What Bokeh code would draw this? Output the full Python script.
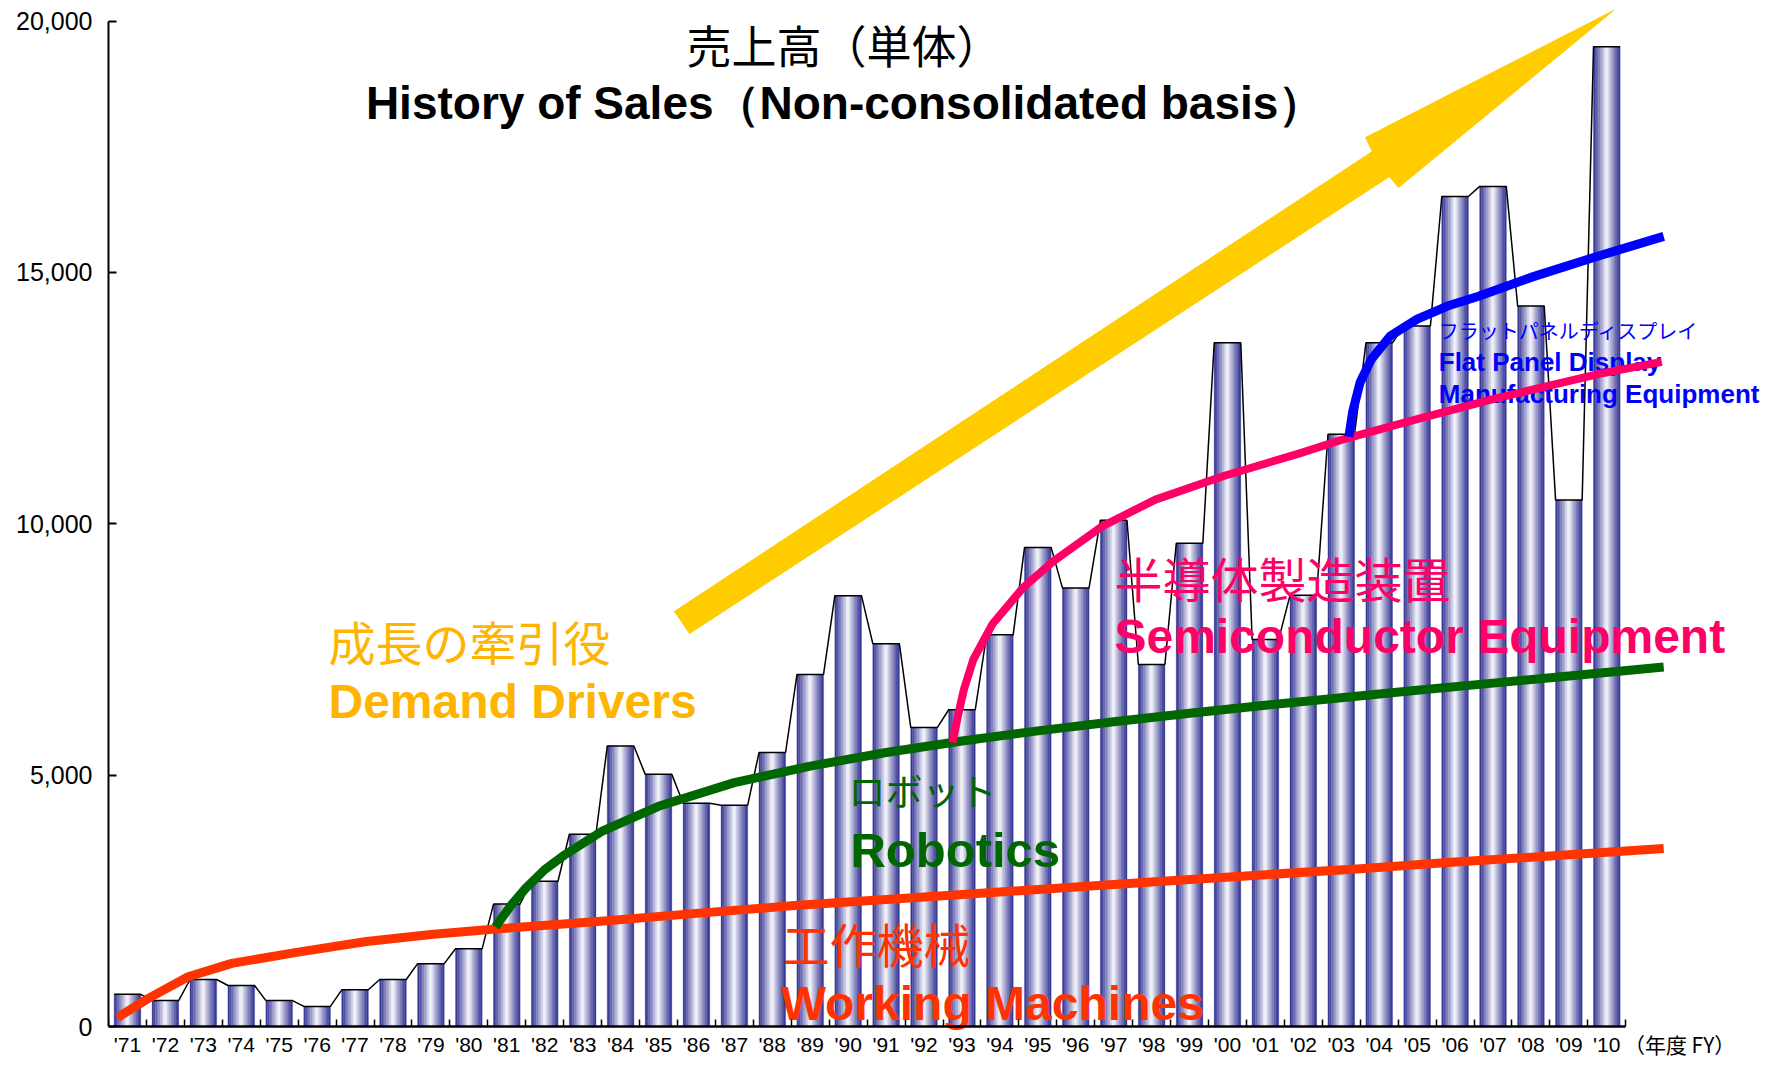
from bokeh.plotting import figure
from bokeh.models import Range1d, FixedTicker, NumeralTickFormatter, ColumnDataSource, LinearAxis
from bokeh.core.properties import value
from bokeh.embed import file_html
from bokeh.resources import INLINE

# ---------------- data ----------------
years = ["'71", "'72", "'73", "'74", "'75", "'76", "'77", "'78", "'79", "'80",
         "'81", "'82", "'83", "'84", "'85", "'86", "'87", "'88", "'89", "'90",
         "'91", "'92", "'93", "'94", "'95", "'96", "'97", "'98", "'99", "'00",
         "'01", "'02", "'03", "'04", "'05", "'06", "'07", "'08", "'09", "'10"]
sales = [640, 515, 935, 815, 515, 400, 730, 935, 1250, 1545,
         2435, 2890, 3825, 5580, 5015, 4440, 4400, 5450, 7000, 8570,
         7615, 5945, 6300, 7790, 9530, 8720, 10070, 7200, 9610, 13600,
         7700, 8580, 11780, 13600, 13935, 16510, 16710, 14330, 10470, 19490]

# trend curves (x in category index, '71 = 0)
machines_x = [-0.26, 0.55, 1.6, 2.75, 4.5, 6.3, 8.0, 9.7, 12.4, 15, 17.5, 20, 22.5, 25, 27.5, 30, 32.5, 35, 37.5, 40.5]
machines_y = [180, 560, 990, 1255, 1480, 1690, 1830, 1940, 2090, 2250, 2400, 2525, 2650, 2775, 2900, 3020, 3140, 3270, 3390, 3540]

robotics_x = [9.7, 10.1, 10.5, 11.0, 11.5, 12.5, 14, 16, 18, 20, 22, 24, 26, 28, 30, 32, 34, 36, 38, 40.5]
robotics_y = [1980, 2400, 2750, 3120, 3400, 3880, 4380, 4850, 5180, 5450, 5680, 5880, 6060, 6230, 6390, 6540, 6690, 6830, 6970, 7150]

semi_x = [21.75, 21.9, 22.05, 22.3, 22.8, 23.6, 24.4, 25.7, 27.1, 28.9, 30.9, 32.1, 34, 36, 38.8, 40.45]
semi_y = [5650, 6200, 6700, 7300, 8000, 8720, 9250, 9950, 10480, 10950, 11400, 11690, 12080, 12480, 12980, 13220]

fpd_x = [32.2, 32.3, 32.5, 32.8, 33.3, 34.0, 34.8, 35.6, 37.0, 38.8, 40.5]
fpd_y = [11730, 12230, 12820, 13280, 13740, 14070, 14330, 14520, 14900, 15330, 15715]

arrow_x = [14.42, 14.82, 33.27, 33.51, 39.18, 32.64, 32.82]
arrow_y = [8255, 7817, 16907, 16688, 20209, 17683, 17405]

y_ticks = [0, 5000, 10000, 15000, 20000]

# ---------------- figure ----------------
W, H = 1766, 1058
p = figure(width=W, height=H, output_backend="svg", toolbar_location=None,
           x_range=Range1d(-0.5, 43.21), y_range=Range1d(-636.5, 20407.8),
           x_axis_location=None,
           min_border_left=108, min_border_right=0, min_border_top=0, min_border_bottom=0)
p.outline_line_color = None
p.grid.visible = False
p.background_fill_color = "white"

# bars as cylinders: vertical strips with a navy-white-navy gradient
bw = 0.70
N = 16
navy = (45, 45, 145)
sx, stop, scol = [], [], []
for i, v in enumerate(sales):
    for k in range(N):
        t = (k + 0.5) / N * 2 - 1
        f = abs(t) ** 0.9
        c = tuple(int(round(255 * (1 - f) + navy[j] * f)) for j in range(3))
        sx.append(i - bw / 2 + (k + 0.5) * bw / N)
        stop.append(v)
        scol.append("#%02x%02x%02x" % c)
src = ColumnDataSource(dict(x=sx, top=stop, color=scol))
p.vbar(x="x", top="top", bottom=0, width=bw / N * 1.08, source=src,
       fill_color="color", line_color="color", line_width=0.3)

# thin black line over the bar tops
lx, ly = [], []
for i, v in enumerate(sales):
    lx += [i - bw / 2, i + bw / 2]
    ly += [v, v]
p.line(lx, ly, line_color="black", line_width=1.5)

# texts
JP = "Noto Sans CJK JP"
EN = "Liberation Sans"
p.text(x=[18.89], y=[19523], text=["売上高（単体）"], text_font=value(JP), text_font_size="45px",
       text_color="black", text_align="center", text_baseline="middle")
p.text(x=[18.92], y=[18373], text=["History of Sales（Non-consolidated basis）"], text_font=value(EN),
       text_font_size="46px", text_font_style="bold", text_color="black",
       text_align="center", text_baseline="middle")

p.text(x=[5.30], y=[7668], text=["成長の牽引役"], text_font=value(JP), text_font_size="47px",
       text_color="#FFB400", text_align="left", text_baseline="middle")
p.text(x=[5.30], y=[6461], text=["Demand Drivers"], text_font=value(EN), text_font_size="48px",
       text_font_style="bold", text_color="#FFB400", text_align="left", text_baseline="middle")

p.text(x=[19.01], y=[4697], text=["ロボット"], text_font=value(JP), text_font_size="37px",
       text_color="#006600", text_align="left", text_baseline="middle")
p.text(x=[19.06], y=[3501], text=["Robotics"], text_font=value(EN), text_font_size="49px",
       text_font_style="bold", text_color="#006600", text_align="left", text_baseline="middle")

p.text(x=[17.27], y=[1679], text=["工作機械"], text_font=value(JP), text_font_size="47px",
       text_color="#FF3300", text_align="left", text_baseline="middle")
p.text(x=[17.22], y=[448], text=["Working Machines"], text_font=value(EN), text_font_size="48px",
       text_font_style="bold", text_color="#FF3300", text_align="left", text_baseline="middle")

p.text(x=[26.02], y=[8939], text=["半導体製造装置"], text_font=value(JP), text_font_size="48px",
       text_color="#FF0066", text_align="left", text_baseline="middle")
p.text(x=[26.02], y=[7750], text=["Semiconductor Equipment"], text_font=value(EN), text_font_size="48px",
       text_font_style="bold", text_color="#FF0066", text_align="left", text_baseline="middle")

p.text(x=[34.57], y=[13852], text=["フラットパネルディスプレイ"], text_font=value(JP), text_font_size="20px",
       text_color="#0000FF", text_align="left", text_baseline="middle")
p.text(x=[34.57, 34.57], y=[13220, 12587], text=["Flat Panel Display", "Manufacturing Equipment"],
       text_font=value(EN), text_font_size="26px", text_font_style="bold", text_color="#0000FF",
       text_align="left", text_baseline="middle")

p.text(x=[39.45], y=[-358], text=["（年度 FY）"], text_font=value(JP), text_font_size="21px",
       text_color="black", text_align="left", text_baseline="middle")

# trend curves
p.line(machines_x, machines_y, line_color="#FF3300", line_width=9, line_cap="butt", line_join="round")
p.line(robotics_x, robotics_y, line_color="#006600", line_width=9, line_cap="butt", line_join="round")
p.line(semi_x, semi_y, line_color="#FF0066", line_width=8, line_cap="butt", line_join="round")
p.line(fpd_x, fpd_y, line_color="#0000FF", line_width=9, line_cap="butt", line_join="round")

# big growth arrow
p.patch(arrow_x, arrow_y, fill_color="#FFCC00", line_color="#FFCC00", line_width=1)

# y axis
p.yaxis.ticker = FixedTicker(ticks=y_ticks)
p.yaxis.formatter = NumeralTickFormatter(format="0,0")
p.yaxis.bounds = (0, 20000)
p.yaxis.axis_line_width = 2
p.yaxis.axis_line_color = "black"
p.yaxis.major_tick_in = 8
p.yaxis.major_tick_out = 0
p.yaxis.major_tick_line_width = 2
p.yaxis.minor_tick_line_color = None
p.yaxis.major_label_text_font = EN
p.yaxis.major_label_text_font_size = "25px"
p.yaxis.major_label_text_color = "black"
p.yaxis.major_label_standoff = 16

# x axis fixed at y = 0 inside the frame
xax = LinearAxis(fixed_location=0)
xax.ticker = FixedTicker(ticks=list(range(len(years))),
                         minor_ticks=[i - 0.5 for i in range(len(years) + 1)])
xax.major_label_overrides = {i: y for i, y in enumerate(years)}
xax.bounds = (-0.5, len(years) - 0.5)
xax.axis_line_width = 2.5
xax.axis_line_color = "black"
xax.major_tick_in = 0
xax.major_tick_out = 0
xax.minor_tick_in = 7
xax.minor_tick_out = 0
xax.minor_tick_line_color = "black"
xax.minor_tick_line_width = 1.5
xax.major_label_text_font = EN
xax.major_label_text_font_size = "21px"
xax.major_label_text_color = "black"
xax.major_label_standoff = 6
p.add_layout(xax, "below")

open("out.html", "w").write(file_html(p, INLINE))
